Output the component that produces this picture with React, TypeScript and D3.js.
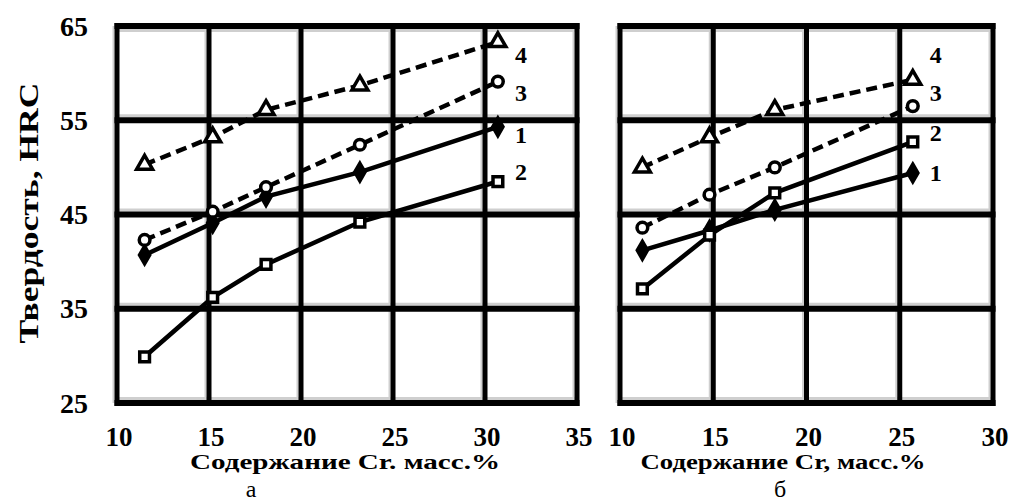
import React from "react";
import * as d3 from "d3";

// panel "а"
const xA = [11.5, 15.2, 18.1, 23.2, 30.7];
const a1 = [40.7, 44.1, 46.9, 49.5, 54.3];
const a2 = [29.9, 36.2, 39.7, 44.2, 48.5];
const a3 = [42.3, 45.3, 47.9, 52.4, 59.1];
const a4 = [50.3, 53.2, 56.1, 58.7, 63.3];
const aLabelY = [53.4, 49.5, 57.9, 61.9]; // series 1..4 label heights

// panel "б"
const xB = [11.2, 14.8, 18.3, 25.7];
const b1 = [41.2, 43.3, 45.5, 49.4];
const b2 = [37.1, 42.8, 47.3, 52.7];
const b3 = [43.6, 47.1, 50.0, 56.5];
const b4 = [50.0, 53.2, 56.1, 59.3];
const bLabelY = [49.4, 53.6, 57.9, 61.9];

const seriesNames = ["1", "2", "3", "4"];
const yTicks = [25, 35, 45, 55, 65];
const xTicksA = [10, 15, 20, 25, 30, 35];
const xTicksB = [10, 15, 20, 25, 30];

const yTitle = "Твердость, HRC";
const xTitleA = "Содержание Cr. масс.%";
const xTitleB = "Содержание Cr, масс.%";

const font = "'Liberation Serif', 'DejaVu Serif', serif";

const top = 26;
const bottom = 403;

const symbols = [d3.symbolDiamond, d3.symbolSquare, d3.symbolCircle, d3.symbolTriangle];
const symSize = [90, 95, 90, 110];
const filled = [true, false, false, false];
const dashed = [false, false, true, true];

function Panel({ xs, series, labelY, ticks, x0, x1, dom, title, titleLen, letter }) {
  const x = d3.scaleLinear().domain(dom).range([x0, x1]);
  const y = d3.scaleLinear().domain([25, 65]).range([bottom, top]);
  const line = d3.line<number>().x((d, i) => x(xs[i])).y((d) => y(d));
  const lastX = x(xs[xs.length - 1]);
  return (
    <g>
      {/* gray shadow strips */}
      {yTicks.map((t) =>
        t === 65 ? (
          <rect key={"s" + t} x={x0} y={y(t) + 3} width={x1 - x0} height={3} fill="#cfcfcf" />
        ) : (
          <rect key={"s" + t} x={x0} y={y(t) - 6} width={x1 - x0} height={3} fill="#cfcfcf" />
        )
      )}
      {ticks.map((t) => (
        <rect key={"v" + t} x={x(t) - 4.5} y={top} width={2} height={bottom - top} fill="#cfcfcf" />
      ))}
      {/* grid */}
      {ticks.map((t) => (
        <line key={"gx" + t} x1={x(t)} x2={x(t)} y1={top - 3} y2={bottom + 3} stroke="#000" strokeWidth={5} />
      ))}
      {yTicks.map((t) => (
        <line key={"gy" + t} x1={x0 - 2.5} x2={x1 + 2.5} y1={y(t)} y2={y(t)} stroke="#000" strokeWidth={6} />
      ))}
      {/* series */}
      {series.map((s, i) => (
        <path
          key={"l" + i}
          d={line(s) || ""}
          fill="none"
          stroke="#000"
          strokeWidth={4.5}
          strokeDasharray={dashed[i] ? "11 6" : undefined}
        />
      ))}
      {series.map((s, i) =>
        s.map((v, j) => (
          <path
            key={"m" + i + "-" + j}
            d={d3.symbol().type(symbols[i]).size(symSize[i])() || ""}
            transform={`translate(${x(xs[j])},${y(v)})`}
            fill={filled[i] ? "#000" : "#fff"}
            stroke="#000"
            strokeWidth={3.5}
          />
        ))
      )}
      {seriesNames.map((n, i) => (
        <text
          key={"n" + n}
          x={lastX + 23}
          y={y(labelY[i])}
          dominantBaseline="central"
          textAnchor="middle"
          fontFamily={font}
          fontWeight="bold"
          fontSize={24}
        >
          {n}
        </text>
      ))}
      {/* x tick labels */}
      {ticks.map((t) => (
        <text
          key={"xt" + t}
          x={x(t) + 2}
          y={446}
          textAnchor="middle"
          fontFamily={font}
          fontWeight="bold"
          fontSize={27}
        >
          {t}
        </text>
      ))}
      <text
        x={title.cx}
        y={469}
        textAnchor="middle"
        fontFamily={font}
        fontWeight="bold"
        fontSize={21}
        textLength={titleLen}
        lengthAdjust="spacingAndGlyphs"
      >
        {title.text}
      </text>
      <text x={title.lx} y={497} textAnchor="middle" fontFamily={font} fontSize={24}>
        {letter}
      </text>
    </g>
  );
}

export default function App() {
  const y = d3.scaleLinear().domain([25, 65]).range([bottom, top]);
  return (
    <svg
      width={1011}
      height={504}
      style={{ position: "absolute", left: 0, top: 0, background: "#fff" }}
    >
      <rect width={1011} height={504} fill="#fff" />
      {yTicks.map((t) => (
        <text
          key={t}
          x={88}
          y={y(t)}
          dominantBaseline="central"
          textAnchor="end"
          fontFamily={font}
          fontWeight="bold"
          fontSize={28}
        >
          {t}
        </text>
      ))}
      <text
        transform="translate(38,213) rotate(-90)"
        textAnchor="middle"
        fontFamily={font}
        fontWeight="bold"
        fontSize={27}
        textLength={261}
        lengthAdjust="spacingAndGlyphs"
      >
        {yTitle}
      </text>
      <Panel
        xs={xA}
        series={[a1, a2, a3, a4]}
        labelY={aLabelY}
        ticks={xTicksA}
        x0={117}
        x1={577}
        dom={[10, 35]}
        title={{ text: xTitleA, cx: 345, lx: 251 }}
        titleLen={310}
        letter="а"
      />
      <Panel
        xs={xB}
        series={[b1, b2, b3, b4]}
        labelY={bLabelY}
        ticks={xTicksB}
        x0={620}
        x1={993}
        dom={[10, 30]}
        title={{ text: xTitleB, cx: 783, lx: 780 }}
        titleLen={285}
        letter="б"
      />
    </svg>
  );
}
